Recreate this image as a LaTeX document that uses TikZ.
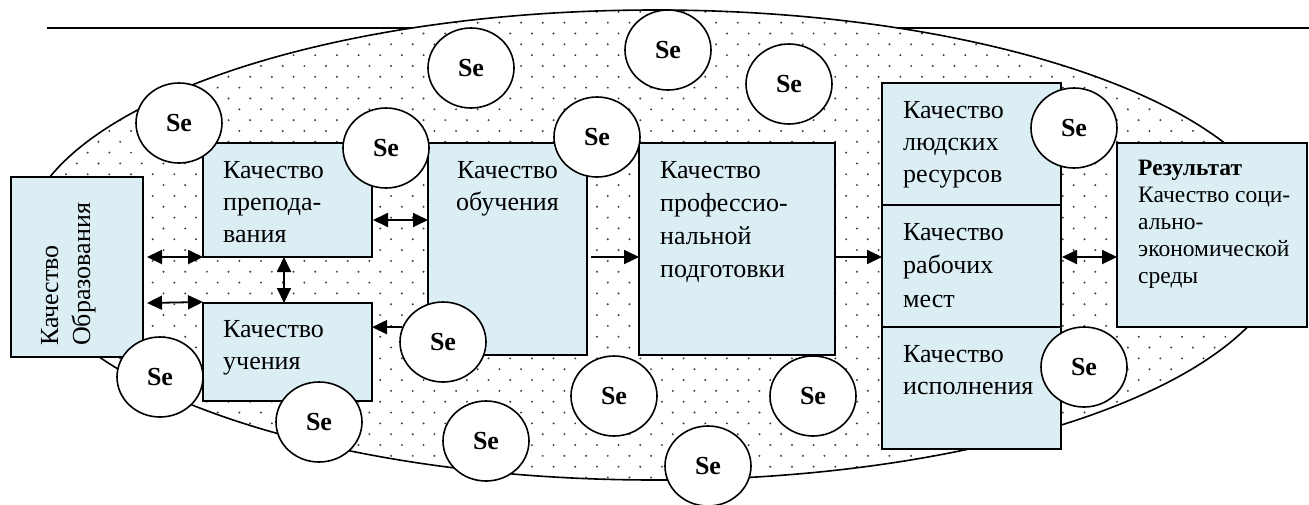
\documentclass[tikz,border=0pt]{standalone}
\usepackage{fontspec}
\setmainfont{Liberation Serif}
\usetikzlibrary{arrows.meta,shapes.geometric}
\definecolor{boxfill}{HTML}{DAEEF3}
\begin{document}
\begin{tikzpicture}[x=1pt,y=-1pt,
  box/.style={draw, line width=1.6pt, fill=boxfill, inner sep=0pt, outer sep=0pt},
  se/.style={ellipse, draw, line width=1.6pt, fill=white, minimum width=86pt, minimum height=80pt, inner sep=0pt, font=\fontsize{26}{30}\selectfont\bfseries},
  txt/.style={anchor=north west, align=left, inner sep=0pt, font=\fontsize{26}{32}\selectfont},
  arr/.style={line width=1.8pt, -{Triangle[length=15pt,width=14pt]}},
  darr/.style={line width=1.8pt, {Triangle[length=15pt,width=14pt]}-{Triangle[length=15pt,width=14pt]}}]
\useasboundingbox (0,0) rectangle (1309,504);
% header rule
\coordinate (hl) at (47,28);
\coordinate (hr) at (1309,28);
\draw[line width=1.2pt] (hl) -- (hr);
% ellipse with dots
\fill[white] (655,245) ellipse [x radius=632, y radius=235];
\begin{scope}
\clip (655,245) ellipse [x radius=632, y radius=235];
\foreach \j in {0,...,46}{
  \pgfmathsetmacro\off{mod(\j,2)*10.83}
  \foreach \i in {0,...,60}{
    \fill[black!75] ({\i*21.67+\off+1},{\j*10.83+1}) circle[radius=1.1];
  }
}
\end{scope}
\draw[line width=1.6pt] (655,245) ellipse [x radius=632, y radius=235];
% boxes
\node[box, minimum width=132pt, minimum height=180pt] (obr) at (77,267) {};
\node[box, minimum width=169pt, minimum height=114pt] (prep) at (287.5,200) {};
\node[box, minimum width=169pt, minimum height=98pt] (uch) at (287.5,352) {};
\node[box, minimum width=159pt, minimum height=212pt] (obuch) at (507.5,249) {};
\node[box, minimum width=196pt, minimum height=212pt] (prof) at (737,249) {};
\node[box, minimum width=179pt, minimum height=122pt] (lud) at (971.5,144) {};
\node[box, minimum width=179pt, minimum height=122pt] (rab) at (971.5,266) {};
\node[box, minimum width=179pt, minimum height=122pt] (isp) at (971.5,388) {};
\node[box, minimum width=190pt, minimum height=184pt] (res) at (1212,235) {};
% texts
\node[txt, rotate=90] (obrt) at (38,346) {\rule{0pt}{20pt}Качество\\Образования};
\node[txt] (prept) at (223,158) {\rule{0pt}{20pt}Качество\\препода-\\вания};
\node[txt] (ucht) at (223,317) {\rule{0pt}{20pt}Качество\\учения};
\node[txt, anchor=north, align=center] (obucht) at (507.5,158) {\rule{0pt}{20pt}Качество\\обучения};
\node[txt, font=\fontsize{26}{33}\selectfont] (proft) at (660,158) {\rule{0pt}{20pt}Качество\\профессио-\\нальной\\подготовки};
\node[txt] (ludt) at (903,98) {\rule{0pt}{20pt}Качество\\людских\\ресурсов};
\node[txt, font=\fontsize{26}{33.5}\selectfont] (rabt) at (903,220) {\rule{0pt}{20pt}Качество\\рабочих\\мест};
\node[txt] (ispt) at (903,342) {\rule{0pt}{20pt}Качество\\исполнения};
\node[txt, font=\fontsize{23.5}{27}\selectfont] (rest) at (1138,157) {\rule{0pt}{18pt}\textbf{Результат}\\Качество соци-\\ально-\\экономической\\среды};
% Se circles
\node[se] (se1) at (179,123) {Se};
\node[se] (se2) at (386,148) {Se};
\node[se] (se3) at (471,68) {Se};
\node[se] (se4) at (668,50) {Se};
\node[se] (se5) at (789,84) {Se};
\node[se] (se6) at (597,137) {Se};
\node[se] (se7) at (443,342) {Se};
\node[se] (se8) at (160,377) {Se};
\node[se] (se9) at (319,422) {Se};
\node[se] (se10) at (486,441) {Se};
\node[se] (se11) at (614,396) {Se};
\node[se] (se12) at (813,396) {Se};
\node[se] (se13) at (708,466) {Se};
\node[se] (se14) at (1074,128) {Se};
\node[se] (se15) at (1084,367) {Se};
% connectors
\draw[darr] ([xshift=4pt]obr.east |- prep.south) -- (prep.south west);
\draw[darr] ([xshift=4pt]obr.east |- uch.north) -- ([yshift=1pt]uch.north west);
\draw[darr] (prep.south -| 284,0) -- (uch.north -| 284,0);
\draw[darr] ([xshift=1pt]prep.east |- 0,220) -- (obuch.west |- 0,220);
\draw[arr] (se7.160) -- (se7.160 -| uch.east);
\draw[arr] ([xshift=4pt]obuch.east |- 0,257) -- (prof.west |- 0,257);
\draw[arr] (prof.east |- 0,257) -- (rab.west |- 0,257);
\draw[darr] ([xshift=1pt]rab.east |- 0,257) -- (res.west |- 0,257);
\end{tikzpicture}
\end{document}
